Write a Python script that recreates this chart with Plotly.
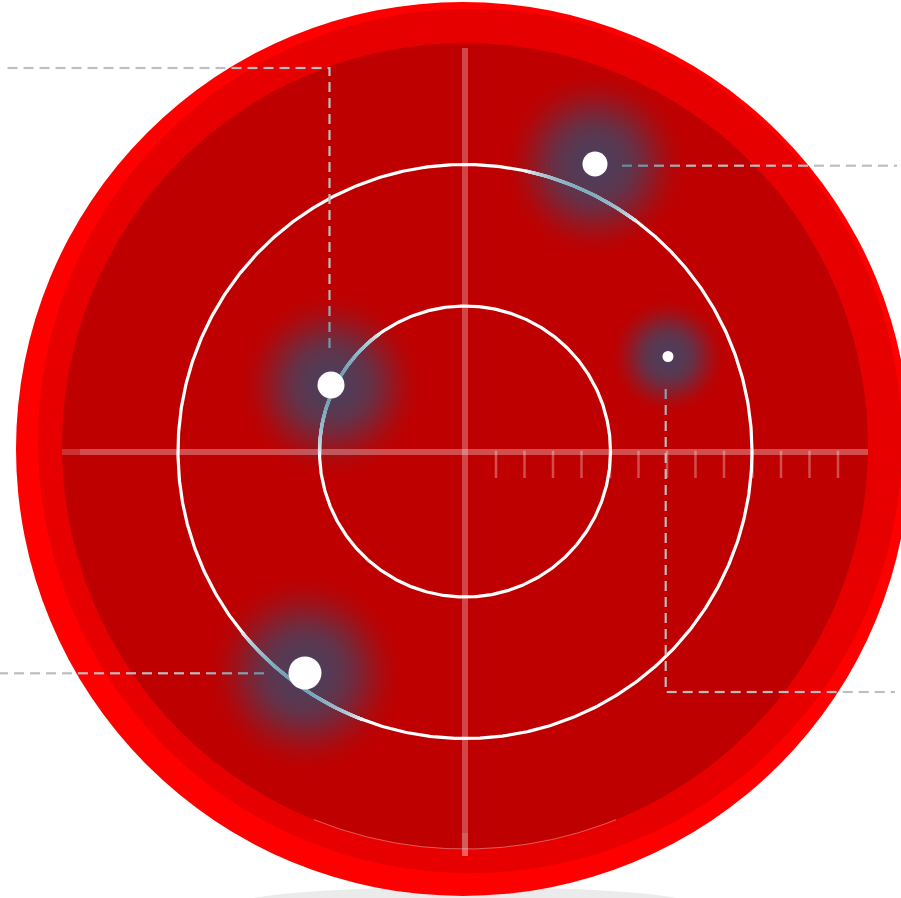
import numpy as np
import plotly.graph_objects as go

W, H = 901, 898
# data units are pixels measured from the radar centre (y up)
X_RANGE = [-465, 436]
Y_RANGE = [-446.5, 451.5]

# ---- data ----
disc_cx = [-2, 5, 0]
disc_cy = [2.5, 10.5, 5.5]
disc_r = [447, 432, 403]
disc_colors = ["#FF0000", "#E60000", "#BF0000"]

ring_r = [145.5, 287]
tick_x = [31, 59.5, 88, 116.5, 145, 173.5, 202, 230.5, 259, 287.5, 316, 344.5, 373]
tick_top, tick_bottom = 0.8, -26.5

pt_x = [-134, 130, 203, -160]
pt_y = [66.5, 287.5, 95, -221.5]
pt_size = [27, 25, 11, 33]
glow_r = [92, 92, 58, 98]

leader_x = [[-135.5, -135.5, -461], [157, 432], [200.7, 200.7, 430], [-201, -465]]
leader_y = [[103.5, 383.5, 383.5], [285.8, 285.8], [62.5, -240.5, -240.5], [-221.8, -221.8]]

GLOW_RGB = (78, 62, 90)
TINT_RGB = (96, 150, 174)
GRAY_RGB = (190, 190, 190)
DASH_TINT = (90, 140, 160)

fig = go.Figure()

# shadow + discs
fig.add_shape(type="circle", xref="x", yref="y", x0=-230, x1=230, y0=-471.5, y1=-435.5,
              fillcolor="#EBEBEB", line_width=0, layer="below")
for cx, cy, r, c in zip(disc_cx, disc_cy, disc_r, disc_colors):
    fig.add_shape(type="circle", xref="x", yref="y", x0=cx - r, x1=cx + r, y0=cy - r, y1=cy + r,
                  fillcolor=c, line_width=0, layer="below")

# bottom highlight arc of the inner disc
th = np.radians(np.linspace(248, 292, 120))
fig.add_trace(go.Scatter(x=disc_cx[2] + disc_r[2] * np.cos(th), y=disc_cy[2] + disc_r[2] * np.sin(th),
                         mode="lines", line=dict(color="rgba(255,200,200,0.45)", width=1),
                         hoverinfo="skip", showlegend=False))

# glows (stacked radial gradients)
for s in [1.0, 0.9, 0.8, 0.7, 0.6, 0.5]:
    fig.add_trace(go.Scatter(
        x=pt_x, y=pt_y, mode="markers", hoverinfo="skip", showlegend=False,
        marker=dict(size=[2 * g * s for g in glow_r], color="rgba(%d,%d,%d,0)" % GLOW_RGB,
                    opacity=1, line=dict(width=0),
                    gradient=dict(type="radial", color="rgba(%d,%d,%d,0.55)" % GLOW_RGB))))

# crosshair
def hline(x0, x1, y, a, w=6):
    fig.add_trace(go.Scatter(x=[x0, x1], y=[y, y], mode="lines", hoverinfo="skip", showlegend=False,
                             line=dict(color="rgba(255,255,255,%g)" % a, width=w)))

def vline(x, y0, y1, a, w=6):
    fig.add_trace(go.Scatter(x=[x, x], y=[y0, y1], mode="lines", hoverinfo="skip", showlegend=False,
                             line=dict(color="rgba(255,255,255,%g)" % a, width=w)))

hline(-403, -385, -0.5, 0.2)
hline(-385, 403, -0.5, 0.3)
vline(0, 403.5, -381.5, 0.28)
vline(0, -381.5, -404.5, 0.36)

# ticks
tx, ty = [], []
for t in tick_x:
    tx += [t, t, None]
    ty += [tick_top, tick_bottom, None]
fig.add_trace(go.Scatter(x=tx, y=ty, mode="lines", hoverinfo="skip", showlegend=False,
                         line=dict(color="rgba(255,255,255,0.3)", width=2.5)))

# rings
th = np.linspace(0, 2 * np.pi, 721)
for r in ring_r:
    fig.add_trace(go.Scatter(x=r * np.cos(th), y=r * np.sin(th), mode="lines", hoverinfo="skip",
                             showlegend=False, line=dict(color="white", width=3.2)))

def mix(c0, c1, w):
    return "rgb(%d,%d,%d)" % tuple(int(round(a + (b - a) * w)) for a, b in zip(c0, c1))

# tinted ring parts near glows
for r in ring_r:
    n = int(2 * np.pi * r / 0.5)
    a = np.linspace(0, 2 * np.pi, n, endpoint=False)
    xs, ys = r * np.cos(a), r * np.sin(a)
    w = np.zeros(n)
    for px, py, g in zip(pt_x, pt_y, glow_r):
        d = np.hypot(xs - px, ys - py)
        w = np.maximum(w, np.clip(1 - d / (0.76 * g), 0, 1) ** 0.45)
    m = w > 0.01
    fig.add_trace(go.Scatter(x=xs[m], y=ys[m], mode="markers", hoverinfo="skip", showlegend=False,
                             marker=dict(size=3.2, opacity=1,
                                         color=[mix((255, 255, 255), TINT_RGB, v) for v in w[m]],
                                         line=dict(width=0))))

# dashed leaders
def dash_segments(px, py, on=10, off=6):
    pts = np.column_stack([px, py]).astype(float)
    seglen = np.hypot(*np.diff(pts, axis=0).T)
    cum = np.concatenate([[0], np.cumsum(seglen)])
    total = cum[-1]

    def at(s):
        i = min(np.searchsorted(cum, s, side="right") - 1, len(seglen) - 1)
        t = (s - cum[i]) / seglen[i]
        return pts[i] + t * (pts[i + 1] - pts[i])

    out = []
    s = 0.0
    while s < total:
        e = min(s + on, total)
        inner = [pts[j] for j in range(len(pts)) if s < cum[j] < e]
        out.append(np.array([at(s)] + inner + [at(e)]))
        s += on + off
    return out

groups = {}
for lx, ly, px, py, g in zip(leader_x, leader_y, pt_x, pt_y, glow_r):
    for seg in dash_segments(lx, ly):
        mid = seg.mean(axis=0)
        d = np.hypot(mid[0] - px, mid[1] - py)
        w = min(1.0, 1.3 * max(0.0, 1 - d / (1.15 * g)))
        q = round(w * 12) / 12
        gx, gy = groups.setdefault(q, ([], []))
        gx += list(seg[:, 0]) + [None]
        gy += list(seg[:, 1]) + [None]
for q, (gx, gy) in groups.items():
    fig.add_trace(go.Scatter(x=gx, y=gy, mode="lines", hoverinfo="skip", showlegend=False,
                             line=dict(color=mix(GRAY_RGB, DASH_TINT, q), width=2.2)))

# points
fig.add_trace(go.Scatter(x=pt_x, y=pt_y, mode="markers", hoverinfo="skip", showlegend=False,
                         marker=dict(size=pt_size, color="white", opacity=1, line=dict(width=0))))

fig.update_layout(
    width=W, height=H, margin=dict(l=0, r=0, t=0, b=0),
    paper_bgcolor="white", plot_bgcolor="white",
    xaxis=dict(range=X_RANGE, visible=False, fixedrange=True),
    yaxis=dict(range=Y_RANGE, visible=False, fixedrange=True),
    showlegend=False,
)
fig.write_html("out.html", config={"displayModeBar": False},
               post_script="document.body.style.margin='0';document.body.style.overflow='hidden';")
